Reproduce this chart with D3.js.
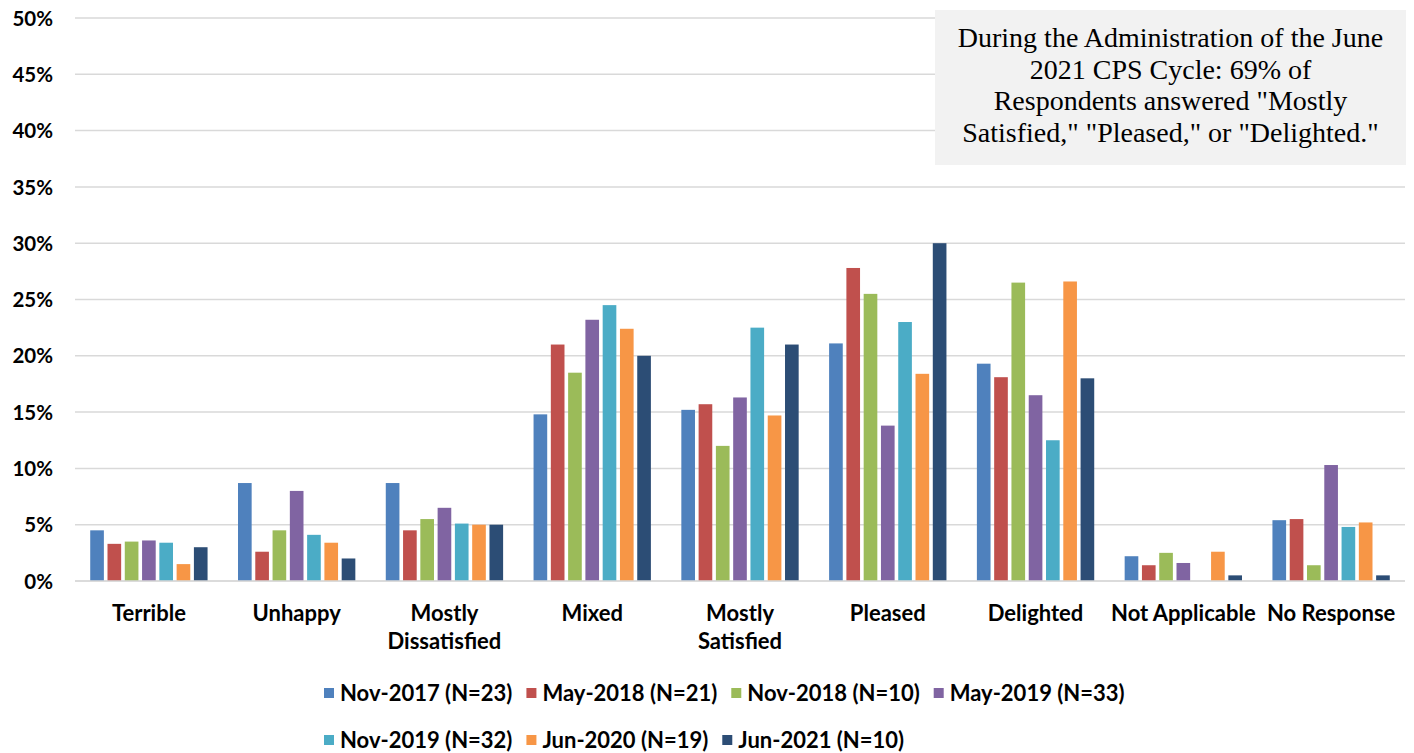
<!DOCTYPE html>
<html>
<head>
<meta charset="utf-8">
<script src="https://cdn.jsdelivr.net/npm/d3@7"></script>
<style>
  html, body { margin: 0; padding: 0; background: #fff; }
  svg { display: block; }
</style>
</head>
<body>
<svg id="chart" width="1414" height="753"></svg>
<script>
const categories = ["Terrible", "Unhappy", "Mostly Dissatisfied", "Mixed", "Mostly Satisfied", "Pleased", "Delighted", "Not Applicable", "No Response"];
const seriesNames = ["Nov-2017 (N=23)", "May-2018 (N=21)", "Nov-2018 (N=10)", "May-2019 (N=33)", "Nov-2019 (N=32)", "Jun-2020 (N=19)", "Jun-2021 (N=10)"];
const seriesColors = ["#4F81BD", "#C0504D", "#9BBB59", "#8064A2", "#4BACC6", "#F79646", "#2C4D75"];
const nov2017 = [4.5, 8.7, 8.7, 14.8, 15.2, 21.1, 19.3, 2.2, 5.4];
const may2018 = [3.3, 2.6, 4.5, 21.0, 15.7, 27.8, 18.1, 1.4, 5.5];
const nov2018 = [3.5, 4.5, 5.5, 18.5, 12.0, 25.5, 26.5, 2.5, 1.4];
const may2019 = [3.6, 8.0, 6.5, 23.2, 16.3, 13.8, 16.5, 1.6, 10.3];
const nov2019 = [3.4, 4.1, 5.1, 24.5, 22.5, 23.0, 12.5, 0, 4.8];
const jun2020 = [1.5, 3.4, 5.0, 22.4, 14.7, 18.4, 26.6, 2.6, 5.2];
const jun2021 = [3.0, 2.0, 5.0, 20.0, 21.0, 30.0, 18.0, 0.5, 0.5];
const yTicks = [0, 5, 10, 15, 20, 25, 30, 35, 40, 45, 50];
const noteLines = ["During the Administration of the June", "2021 CPS Cycle: 69% of", "Respondents answered \"Mostly", "Satisfied,\" \"Pleased,\" or \"Delighted.\""];

const seriesValues = [nov2017, may2018, nov2018, may2019, nov2019, jun2020, jun2021];

const svg = d3.select("#chart");
const margin = { left: 75, right: 9, top: 18, bottom: 172 };
const W = 1414, H = 753;
const plotL = margin.left, plotR = W - margin.right;
const plotT = margin.top, plotB = H - margin.bottom;

const x0 = d3.scaleBand().domain(categories).range([plotL, plotR]).paddingInner(0).paddingOuter(0);
const x1 = d3.scaleBand().domain(seriesNames)
  .range([x0.bandwidth() * 0.103, x0.bandwidth() * 0.897])
  .paddingInner(0.21).paddingOuter(0);
const y = d3.scaleLinear().domain([0, 50]).range([plotB, plotT]);

const boldFont = "Lato, 'Open Sans', 'Liberation Sans', sans-serif";

// gridlines
svg.append("g").selectAll("line").data(yTicks).join("line")
  .attr("x1", plotL).attr("x2", plotR)
  .attr("y1", d => y(d)).attr("y2", d => y(d))
  .attr("stroke", "#d9d9d9").attr("stroke-width", 1.5);

// y axis labels
const yAxis = d3.axisLeft(y).tickValues(yTicks).tickFormat(d => d + "%").tickSize(0).tickPadding(0);
const yg = svg.append("g").attr("transform", `translate(${plotL - 22},0)`).call(yAxis);
yg.select(".domain").remove();
yg.selectAll("text")
  .attr("font-family", boldFont).attr("font-weight", "bold")
  .attr("font-size", 20.5).attr("fill", "#000").attr("dy", "0.35em");

// note box
const noteX = 935, noteY = 10, noteW = 471, noteH = 155;
svg.append("rect").attr("x", noteX).attr("y", noteY).attr("width", noteW).attr("height", noteH).attr("fill", "#f2f2f2");

// bars
const groups = svg.append("g").selectAll("g").data(categories).join("g")
  .attr("transform", d => `translate(${x0(d)},0)`);
groups.selectAll("rect")
  .data((c, ci) => seriesNames.map((s, si) => ({ s, si, v: seriesValues[si][ci] })))
  .join("rect")
  .filter(d => d.v > 0)
  .attr("x", d => x1(d.s))
  .attr("width", x1.bandwidth())
  .attr("y", d => y(d.v))
  .attr("height", d => y(0) - y(d.v))
  .attr("fill", d => seriesColors[d.si]);

// baseline
svg.append("line").attr("x1", plotL).attr("x2", plotR).attr("y1", y(0)).attr("y2", y(0))
  .attr("stroke", "#d9d9d9").attr("stroke-width", 1.5);

// category labels
const xAxis = d3.axisBottom(x0).tickSize(0).tickFormat("");
const xg = svg.append("g").attr("transform", `translate(0,${plotB})`).call(xAxis);
xg.select(".domain").remove();
xg.selectAll(".tick").each(function(d) {
  const lines = d.startsWith("Mostly ") ? ["Mostly", d.slice(7)] : [d];
  const t = d3.select(this).append("text")
    .attr("text-anchor", "middle").attr("font-family", boldFont).attr("font-weight", "bold")
    .attr("font-size", 22).attr("fill", "#000");
  lines.forEach((ln, i) => t.append("tspan").attr("x", 0).attr("y", 40 + i * 27.5).text(ln));
});

// note text
const nt = svg.append("text").attr("text-anchor", "middle")
  .attr("font-family", "'Liberation Serif', 'Times New Roman', serif")
  .attr("font-size", 28).attr("fill", "#000");
noteLines.forEach((ln, i) => nt.append("tspan").attr("x", noteX + noteW / 2).attr("y", 47 + i * 31.7).text(ln));

// legend
const legendRows = [[0, 1, 2, 3], [4, 5, 6]];
const legendY = [693, 740];
const legend = svg.append("g");
legendRows.forEach((row, ri) => {
  let cx = 324;
  row.forEach(si => {
    const g = legend.append("g").attr("transform", `translate(${cx},${legendY[ri]})`);
    g.append("rect").attr("x", 0).attr("y", -5).attr("width", 10).attr("height", 10).attr("fill", seriesColors[si]);
    const t = g.append("text").attr("x", 16).attr("dy", "0.36em")
      .attr("font-family", boldFont).attr("font-weight", "bold").attr("font-size", 22)
      .attr("fill", "#000").text(seriesNames[si]);
    const w = t.node().getComputedTextLength();
    cx += 16 + w + 14;
  });
});
</script>
</body>
</html>
